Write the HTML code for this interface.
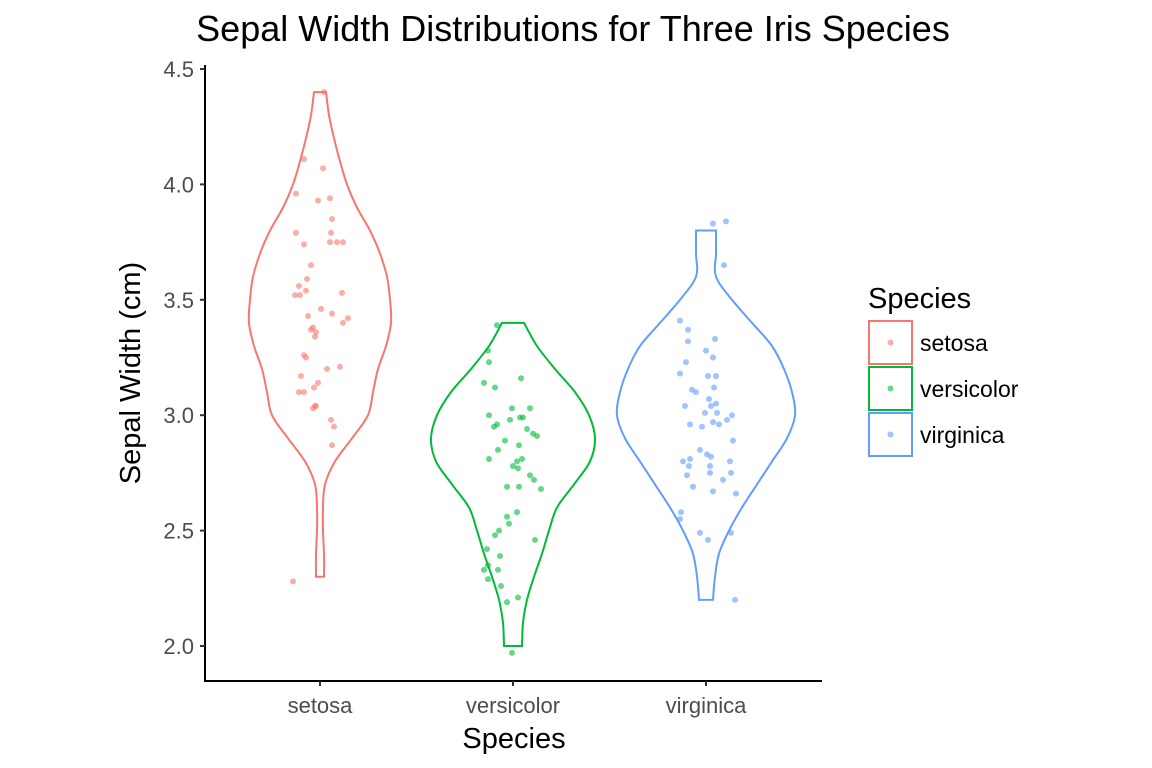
<!DOCTYPE html>
<html><head><meta charset="utf-8">
<style>
body{margin:0;background:#fff;}
svg{display:block;font-family:"Liberation Sans",Arial,sans-serif;}
</style></head>
<body>
<svg id="chart" width="1152" height="768" viewBox="0 0 1152 768">
<text x="573" y="41" font-size="36" text-anchor="middle" fill="#000">Sepal Width Distributions for Three Iris Species</text>
<g id="plot"></g>
<line x1="205" y1="65" x2="205" y2="682" stroke="#000" stroke-width="2"/>
<line x1="204" y1="681" x2="822" y2="681" stroke="#000" stroke-width="2"/>
<g id="yticks"></g>
<g id="xticks"></g>
<text x="514" y="748" font-size="29" text-anchor="middle">Species</text>
<text transform="translate(140,373) rotate(-90)" font-size="29" text-anchor="middle">Sepal Width (cm)</text>
<g id="legend">
<text x="868" y="308" font-size="29">Species</text>
</g>
</svg>
<script>
const species = ["setosa","versicolor","virginica"];
const colors = ["#F8766D","#00BA38","#619CFF"];
const yTicks = [2.0,2.5,3.0,3.5,4.0,4.5];
const tickLabels = ["2.0","2.5","3.0","3.5","4.0","4.5"];
// violin density profiles: values and half widths (px)
const setosaV = [4.4,4.3,4.2,4.1,4.0,3.9,3.8,3.7,3.6,3.5,3.4,3.3,3.2,3.1,3.0,2.9,2.8,2.7,2.6,2.5,2.4,2.3];
const setosaW = [6,9,14,20,27,37,50,60,67,70,71,66,58,53,48,32,15,5,3,3,4,4];
const versiV = [3.4,3.3,3.2,3.1,3.0,2.9,2.8,2.7,2.6,2.5,2.4,2.3,2.2,2.1,2.0];
const versiW = [11,24,42,62,76,82,77,61,44,36,29,21,14,10,9];
const virgV = [3.8,3.7,3.6,3.5,3.4,3.3,3.2,3.1,3.0,2.9,2.8,2.7,2.6,2.5,2.4,2.3,2.2];
const virgW = [10,10,10,26,46,66,78,86,89,81,66,51,36,23,13,9,7];
// jittered points: x offsets (category units) and values
const setosaPx = [4,-16,3,-24,-2,10,12,-24,11,-16,10,23,17,-9,-13,-21,-14,-25,-20,22,1,12,-12,28,23,-7,-9,-4,-5,-16,-14,20,7,-19,-2,-6,-21,-16,-5,-7,-4,11,14,12,-27];
const setosaPy = [4.40,4.11,4.07,3.96,3.93,3.94,3.85,3.79,3.79,3.74,3.75,3.75,3.75,3.65,3.59,3.56,3.54,3.52,3.52,3.53,3.46,3.44,3.43,3.42,3.40,3.38,3.37,3.36,3.34,3.26,3.25,3.21,3.20,3.17,3.14,3.12,3.10,3.10,3.04,3.03,3.04,2.98,2.95,2.87,2.28];
const versiPx = [-16,-25,-24,8,-29,-18,-24,-1,17,-16,-19,7,10,-3,14,20,24,-8,-15,6,-24,4,9,0,5,17,21,-6,6,28,4,-6,-4,-14,22,-18,-26,-13,-25,-29,-15,-25,-12,5,-6,-1];
const versiPy = [3.39,3.28,3.23,3.16,3.14,3.12,3.00,3.03,3.03,2.96,2.95,2.99,2.99,2.98,2.94,2.92,2.91,2.89,2.85,2.87,2.81,2.80,2.81,2.78,2.77,2.74,2.72,2.69,2.69,2.68,2.58,2.56,2.53,2.50,2.46,2.48,2.42,2.39,2.35,2.33,2.33,2.29,2.26,2.21,2.19,1.97];
const virgPx = [7,20,18,-26,-18,9,-18,0,7,-20,-26,2,10,-14,-10,8,3,-21,5,10,11,-1,26,21,7,-16,-4,13,27,-6,1,5,-23,-16,24,25,4,-17,4,-19,17,-13,7,30,-25,-26,-6,25,2,29];
const virgPy = [3.83,3.84,3.65,3.41,3.37,3.33,3.32,3.28,3.25,3.23,3.18,3.17,3.17,3.11,3.10,3.12,3.07,3.04,3.04,3.05,3.01,3.01,3.00,2.98,2.97,2.96,2.95,2.96,2.89,2.85,2.83,2.82,2.80,2.81,2.80,2.75,2.78,2.78,2.75,2.74,2.72,2.69,2.67,2.66,2.58,2.55,2.49,2.49,2.46,2.20];

const NS="http://www.w3.org/2000/svg";
function y(v){return 646-(v-2)*230.8;}
function x(i){return 320+i*193;}
function mk(tag,attrs,parent){const e=document.createElementNS(NS,tag);for(const k in attrs)e.setAttribute(k,attrs[k]);parent.appendChild(e);return e;}
const plot=document.getElementById('plot');
const viol=[[setosaV,setosaW],[versiV,versiW],[virgV,virgW]];
const pts=[[setosaPx,setosaPy],[versiPx,versiPy],[virgPx,virgPy]];
viol.forEach((vw,i)=>{
  const [V,W]=vw;const cx=x(i);
  const right=V.map((v,k)=>[cx+W[k],y(v)]);
  const left=V.map((v,k)=>[cx-W[k],y(v)]).reverse();
  function smooth(p){let d='';for(let k=0;k<p.length-1;k++){const p0=p[Math.max(k-1,0)],p1=p[k],p2=p[k+1],p3=p[Math.min(k+2,p.length-1)];
    const c1=[p1[0]+(p2[0]-p0[0])/6,p1[1]+(p2[1]-p0[1])/6],c2=[p2[0]-(p3[0]-p1[0])/6,p2[1]-(p3[1]-p1[1])/6];
    d+=` C${c1[0].toFixed(1)},${c1[1].toFixed(1)} ${c2[0].toFixed(1)},${c2[1].toFixed(1)} ${p2[0].toFixed(1)},${p2[1].toFixed(1)}`;}return d;}
  const d=`M${left[left.length-1][0]},${left[left.length-1][1]} L${right[0][0]},${right[0][1]}`+smooth(right)+` L${left[0][0]},${left[0][1]}`+smooth(left)+'Z';
  const p=mk('path',{d:d,fill:'none',stroke:colors[i],'stroke-width':2},plot);
  
  
});
pts.forEach((pp,i)=>{
  const [PX,PY]=pp;
  PY.forEach((v,k)=>{
    const c=mk('circle',{cx:x(i)+PX[k],cy:y(v),r:3,fill:colors[i],'fill-opacity':0.6},plot);
    
    
  });
});
const yt=document.getElementById('yticks');
yTicks.forEach((v,k)=>{
  const l=mk('line',{x1:200,x2:205,y1:y(v),y2:y(v),stroke:'#333','stroke-width':2},yt);
  
  
  const t=mk('text',{x:194,y:y(v)+8,'font-size':22,'text-anchor':'end',fill:'#4d4d4d'},yt);
  t.textContent=tickLabels[k];
  
  
});
const xt=document.getElementById('xticks');
species.forEach((s,i)=>{
  const l=mk('line',{x1:x(i),x2:x(i),y1:681,y2:686,stroke:'#333','stroke-width':2},xt);
  
  
  const t=mk('text',{x:x(i),y:713,'font-size':22,'text-anchor':'middle',fill:'#4d4d4d'},xt);
  t.textContent=s;
  
  
});
const lg=document.getElementById('legend');
const ly=[321,367,413];
species.forEach((s,i)=>{
  const g=mk('g',{},lg);
  
  
  mk('rect',{x:869,y:ly[i],width:43,height:43,fill:'#fff',stroke:colors[i],'stroke-width':2},g);
  mk('circle',{cx:890.5,cy:ly[i]+21.5,r:3,fill:colors[i],'fill-opacity':0.6},g);
  const t=mk('text',{x:920,y:ly[i]+30,'font-size':23,fill:'#000'},g);
  t.textContent=s;
});
</script>
</body></html>
